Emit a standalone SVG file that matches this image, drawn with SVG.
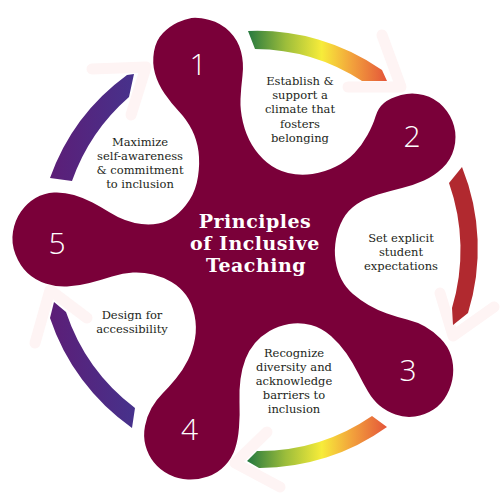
<svg xmlns="http://www.w3.org/2000/svg" width="500" height="500" viewBox="0 0 500 500">
<defs>
<style>
.lbl{font-family:"DejaVu Serif","Liberation Serif",serif;font-size:11.5px;fill:#231f20;text-anchor:middle}
.num{font-family:"Open Sans","Lato","Liberation Sans",sans-serif;font-weight:300;font-size:30px;fill:#ffffff;text-anchor:middle}
.ttl{font-family:"DejaVu Serif","Liberation Serif",serif;font-weight:bold;font-size:19px;letter-spacing:0.5px;fill:#ffffff;text-anchor:middle}
.chev{fill:none;stroke:#fef4f4;stroke-width:11;stroke-linecap:round;stroke-linejoin:round}
</style>
<linearGradient id="warm" gradientUnits="userSpaceOnUse" x1="248" y1="0" x2="387" y2="0">
<stop offset="0" stop-color="#26793f"/>
<stop offset="0.27" stop-color="#9cbd3b"/>
<stop offset="0.53" stop-color="#f7ec3a"/>
<stop offset="0.75" stop-color="#f2a13c"/>
<stop offset="1" stop-color="#e4553a"/>
</linearGradient>
<linearGradient id="purp" gradientUnits="userSpaceOnUse" x1="50" y1="0" x2="136" y2="0">
<stop offset="0" stop-color="#5c1e77"/>
<stop offset="1" stop-color="#46328c"/>
</linearGradient>
</defs>
<rect width="500" height="500" fill="#ffffff"/>
<g id="connectors">
<polyline class="chev" points="382,35 401,87 348,87"/>
<polyline class="chev" points="440,293 453,336 494,307"/>
<polyline class="chev" points="267,432 235,463 280,487"/>
<polyline class="chev" points="35,343 50,290 87,318"/>
<polyline class="chev" points="92,69 146,67 131,115"/>
<path fill="url(#warm)" d="M248,31 A218,218 0 0 1 382,70 L387,81 L362,81 A199,199 0 0 0 255,49 Z"/>
<path fill="#b1292f" d="M462,167 A218,218 0 0 1 468,313 L453,325 L452,308 A201,201 0 0 0 449,183 Z"/>
<path fill="url(#warm)" d="M387,427 A218,218 0 0 1 259,468 L247,461 L257,451 A200,200 0 0 0 372,416 Z"/>
<path fill="url(#purp)" d="M132,428 A218,218 0 0 1 50,318 L54,302 L66,312 A200,200 0 0 0 135,408 Z"/>
<path fill="url(#purp)" d="M50,178 A218,218 0 0 1 127,75 L134,74 L129,97 A200,200 0 0 0 72,181 Z"/>
</g>
<g id="blob">
<path fill="#7a0039" d="M191.5,18 Q198,17 209.5,20 Q221,23 229.5,31.5 Q238,40 241,51.5 Q244,63 242.5,75.5 Q241,88 240.5,99 Q240,110 243,122.5 Q246,135 252,145 Q258,155 267,162.5 Q276,170 288,173 Q300,176 312.5,174 Q325,172 336,166.5 Q347,161 354.5,153 Q362,145 367.5,135 Q373,125 375.5,116.5 Q378,108 384,103 Q390,98 401,95 Q412,92 423.5,95 Q435,98 443,106.5 Q451,115 454,126 Q457,137 454,148.5 Q451,160 442.5,168 Q434,176 424,180.5 Q414,185 402,188 Q390,191 378,194.5 Q366,198 357,204 Q348,210 343,219 Q338,228 336,239 Q334,250 335.5,260.5 Q337,271 341.5,279.5 Q346,288 353,294 Q360,300 368.5,305 Q377,310 387,313.5 Q397,317 407,319.5 Q417,322 425,326.5 Q433,331 440.5,338.5 Q448,346 451,355.5 Q454,365 453,375 Q452,385 447,394.5 Q442,404 433.5,409.5 Q425,415 415,416.5 Q405,418 395.5,414.5 Q386,411 379.5,405.5 Q373,400 368,391.5 Q363,383 358,373 Q353,363 346.5,353.5 Q340,344 331,336 Q322,328 311,325 Q300,322 289,324 Q278,326 269.5,331 Q261,336 255,343 Q249,350 245.5,359 Q242,368 240.5,379 Q239,390 239.5,402.5 Q240,415 239,427.5 Q238,440 235,449 Q232,458 225,465.5 Q218,473 208,476.5 Q198,480 188,479.5 Q178,479 169,474.5 Q160,470 154,462.5 Q148,455 145.5,445.5 Q143,436 145,426 Q147,416 151.5,408 Q156,400 162.5,393.5 Q169,387 176,378.5 Q183,370 188,360 Q193,350 195,338.5 Q197,327 194.5,315 Q192,303 186,295 Q180,287 171.5,282 Q163,277 153,274.5 Q143,272 133,272.5 Q123,273 112,276.5 Q101,280 89.5,283 Q78,286 67,286.5 Q56,287 45.5,283.5 Q35,280 27.5,273 Q20,266 15.5,254.5 Q11,243 13,231.5 Q15,220 21,211.5 Q27,203 35.5,198 Q44,193 54,192.5 Q64,192 74,195 Q84,198 92.5,202.5 Q101,207 109,212 Q117,217 125,220 Q133,223 141.5,224 Q150,225 158.5,223.5 Q167,222 175,216 Q183,210 189.5,200 Q196,190 198,176.5 Q200,163 198.5,151.5 Q197,140 192,130 Q187,120 179,111.5 Q171,103 164.5,93.5 Q158,84 155,73.5 Q152,63 154,51.5 Q156,40 163,33 Q170,26 177.5,22.5 Q185,19 191.5,18 Z"/>
<text class="ttl" x="255" y="228">Principles</text>
<text class="ttl" x="255" y="250">of Inclusive</text>
<text class="ttl" x="256" y="271.5">Teaching</text>
</g>
<g id="p1">
<text class="num" x="198" y="75">1</text>
<text class="lbl" x="300" y="85">Establish &amp;</text>
<text class="lbl" x="300" y="99.2">support a</text>
<text class="lbl" x="300" y="113.4">climate that</text>
<text class="lbl" x="300" y="127.6">fosters</text>
<text class="lbl" x="300" y="141.8">belonging</text>
</g>
<g id="p2">
<text class="num" x="412" y="147">2</text>
<text class="lbl" x="401" y="242">Set explicit</text>
<text class="lbl" x="401" y="256.2">student</text>
<text class="lbl" x="401" y="270.4">expectations</text>
</g>
<g id="p3">
<text class="num" x="408" y="381">3</text>
<text class="lbl" x="294" y="356.6">Recognize</text>
<text class="lbl" x="294" y="370.8">diversity and</text>
<text class="lbl" x="294" y="385">acknowledge</text>
<text class="lbl" x="294" y="399.2">barriers to</text>
<text class="lbl" x="294" y="413.4">inclusion</text>
</g>
<g id="p4">
<text class="num" x="189.5" y="440">4</text>
<text class="lbl" x="132" y="319">Design for</text>
<text class="lbl" x="132" y="333.3">accessibility</text>
</g>
<g id="p5">
<text class="num" x="57" y="254">5</text>
<text class="lbl" x="140" y="145.6">Maximize</text>
<text class="lbl" x="140" y="159.8">self-awareness</text>
<text class="lbl" x="140" y="174">&amp; commitment</text>
<text class="lbl" x="140" y="188.2">to inclusion</text>
</g>
</svg>
